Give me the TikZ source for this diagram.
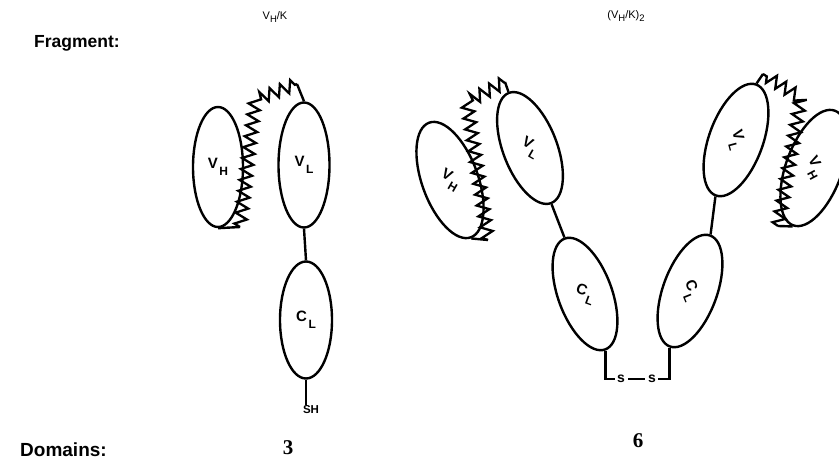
\documentclass[tikz,border=0pt]{standalone}
\usepackage{fontspec}
\setmainfont{Liberation Sans}
\newfontfamily\numfont{Liberation Serif}
\usetikzlibrary{shapes.geometric,decorations.pathmorphing}
\newcommand\dsb[1]{\raisebox{-0.55ex}{\fontsize{9.5}{9.5}\selectfont #1}}
\newcommand\lsb[1]{\kern1.5pt\raisebox{-0.9ex}{\fontsize{12}{12}\selectfont #1}}
\begin{document}
\begin{tikzpicture}[x=1pt,y=-1pt,
  dom/.style={draw,ellipse,line width=2.4pt,inner sep=0pt,font=\bfseries\fontsize{15}{15}\selectfont},
  link/.style={line width=2.4pt},
  zz/.style={line width=2.3pt,line join=miter,decorate,decoration={zigzag,segment length=11pt,amplitude=6pt}},
  head/.style={inner sep=0pt,font=\bfseries\fontsize{17.5}{17.5}\selectfont},
  small/.style={inner sep=1pt,font=\fontsize{11}{11}\selectfont},
  num/.style={inner sep=0pt,font=\numfont\bfseries\fontsize{21}{21}\selectfont},
  sl/.style={inner sep=2pt,font=\bfseries\fontsize{14}{14}\selectfont}]
\useasboundingbox (0,0) rectangle (839,471);

% headings
\node[head,anchor=west] (frag) at (34,43) {Fragment:};
\node[head,anchor=west,font=\bfseries\fontsize{19}{19}\selectfont] (dom) at (20,450) {Domains:};
\node[small] (t1) at (275,17) {V\dsb{H}/K};
\node[small] (t2) at (626,16) {(V\dsb{H}/K)\dsb{2}};
\node[num] (n3) at (288,448) {3};
\node[num] (n6) at (638,441) {6};

% ---- V_H/K fragment
\node[dom,minimum width=50pt,minimum height=120pt] (vh1) at (218,167) {V\lsb{H}};
\node[dom,minimum width=51pt,minimum height=125pt] (vl1) at (304,165) {V\lsb{L}};
\node[dom,minimum width=52pt,minimum height=117pt] (cl1) at (306,320) {C\lsb{L}};
\coordinate (z1a) at (240,227);
\coordinate (z1b) at (255,100);
\coordinate (z1c) at (297,84);
\draw[link] (vh1.south) -- (z1a);
\draw[zz] (z1a) -- (z1b) -- (z1c);
\draw[link] (z1c) -- (vl1.north);
\draw[link] (vl1.south) -- (cl1.north);
\node[inner sep=1pt,font=\bfseries\fontsize{11.5}{11.5}\selectfont] (sh) at (311,410) {SH};
\draw[link] (cl1.south) -- (cl1.south |- sh.north);

% ---- (V_H/K)_2 fragment, left arm
\node[dom,minimum width=56pt,minimum height=122pt,rotate=20] (vh2) at (450,180) {\rotatebox{-50}{V\lsb{H}}};
\node[dom,minimum width=54pt,minimum height=118pt,rotate=21] (vl2) at (530,148) {\rotatebox{-51}{V\lsb{L}}};
\node[dom,minimum width=54pt,minimum height=118pt,rotate=20] (cl2) at (585,294) {\rotatebox{-40}{C\lsb{L}}};
\coordinate (z2a) at (488,240);
\coordinate (z2b) at (467,102);
\coordinate (z2c) at (505,82);
\draw[link] (vh2.south) -- (z2a);
\draw[zz] (z2a) -- (z2b) -- (z2c);
\draw[link] (z2c) -- (vl2.north);
\draw[link] (vl2.south) -- (cl2.north);

% right arm
\node[dom,minimum width=56pt,minimum height=122pt,rotate=-20] (vh3) at (814,168) {\rotatebox{-42}{V\lsb{H}}};
\node[dom,minimum width=54pt,minimum height=118pt,rotate=-20] (vl3) at (736,140) {\rotatebox{-55}{V\lsb{L}}};
\node[dom,minimum width=54pt,minimum height=118pt,rotate=-20] (cl3) at (690,291) {\rotatebox{-48}{C\lsb{L}}};
\coordinate (z3a) at (778,226);
\coordinate (z3b) at (801,98);
\coordinate (z3c) at (763,74);
\draw[link] (vh3.south) -- (z3a);
\draw[zz] (z3a) -- (z3b) -- (z3c);
\draw[link] (z3c) -- (vl3.north);
\draw[link] (vl3.south) -- (cl3.north);

% disulfide bridge
\node[sl] (s1) at (621,379) {s};
\node[sl] (s2) at (652,379) {s};
\draw[link] (cl2.south) -- (cl2.south |- s1) -- (s1.west);
\draw[link] (cl3.south) -- (cl3.south |- s2) -- (s2.east);
\draw[link] ([xshift=1pt]s1.east) -- ([xshift=-1pt]s2.west);
\end{tikzpicture}
\end{document}
